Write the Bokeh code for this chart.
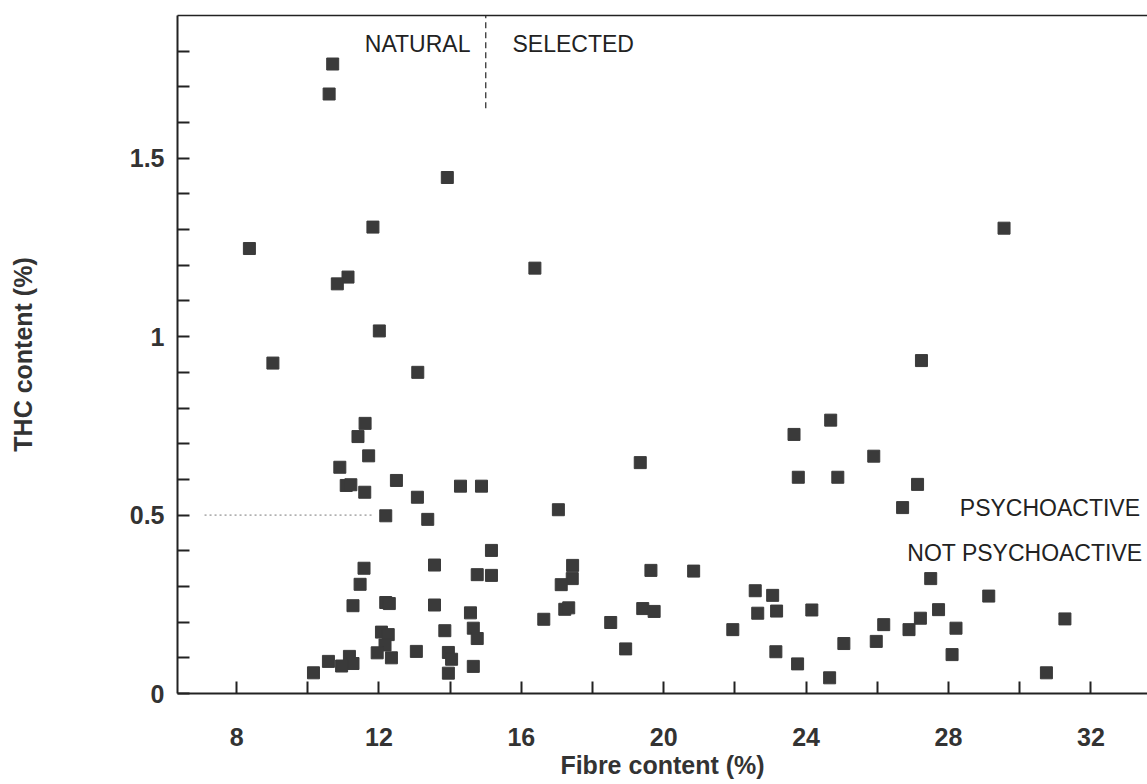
from bokeh.plotting import figure
from bokeh.models import (FixedTicker, CustomJSTickFormatter, LinearAxis, Range1d)
from bokeh.embed import file_html
from bokeh.resources import INLINE
from bokeh.core.properties import value

fibre = [10.70, 10.60, 13.92, 11.83, 8.36, 11.13, 10.83, 16.38, 12.01, 9.02,
         13.09, 11.61, 11.41, 11.71, 10.90, 11.08, 11.21, 11.60, 12.49, 13.08,
         14.29, 14.88, 12.19, 13.37, 17.04, 15.16, 11.58, 13.56, 14.76, 15.16,
         11.47, 11.27, 12.19, 12.29, 13.56, 14.57, 16.63, 12.07, 12.26, 13.85,
         14.65, 14.76, 12.17, 11.95, 12.35, 13.05, 13.95, 14.04, 11.17, 11.27,
         10.95, 10.58, 10.16, 13.95, 14.65,
         24.69, 23.66, 25.90, 23.78, 24.89, 19.34, 17.44, 17.43, 17.12, 17.22,
         17.33, 19.64, 20.84, 19.41, 19.73, 18.51, 18.93, 21.94, 22.57, 23.06,
         22.64, 23.17, 24.16, 23.15, 23.76, 24.66, 25.06, 25.97, 26.18,
         29.56, 27.24, 27.13, 26.71, 27.50, 29.13, 27.72, 27.21, 26.89, 28.21,
         31.27, 28.10, 30.75]
thc = [1.764, 1.680, 1.446, 1.307, 1.247, 1.167, 1.148, 1.192, 1.016, 0.926,
       0.900, 0.757, 0.720, 0.666, 0.634, 0.583, 0.585, 0.564, 0.597, 0.550,
       0.581, 0.581, 0.498, 0.488, 0.515, 0.401, 0.351, 0.360, 0.333, 0.331,
       0.306, 0.246, 0.255, 0.252, 0.248, 0.226, 0.208, 0.172, 0.165, 0.176,
       0.183, 0.154, 0.136, 0.114, 0.100, 0.118, 0.115, 0.096, 0.104, 0.084,
       0.077, 0.090, 0.058, 0.057, 0.076,
       0.766, 0.726, 0.665, 0.606, 0.606, 0.647, 0.359, 0.322, 0.305, 0.236,
       0.240, 0.345, 0.343, 0.238, 0.230, 0.199, 0.125, 0.179, 0.288, 0.275,
       0.225, 0.231, 0.234, 0.117, 0.083, 0.044, 0.140, 0.146, 0.193,
       1.304, 0.933, 0.586, 0.521, 0.322, 0.273, 0.235, 0.211, 0.179, 0.183,
       0.209, 0.109, 0.058]

x_major = [8, 12, 16, 20, 24, 28, 32]
x_minor = [10, 14, 18, 22, 26, 30]
y_major = [0, 0.5, 1, 1.5]
y_minor = [0.1, 0.2, 0.3, 0.4, 0.6, 0.7, 0.8, 0.9, 1.1, 1.2, 1.3, 1.4, 1.6, 1.7, 1.8]
threshold = 0.5
threshold_from, threshold_to = 7.1, 11.8
divider = 15
divider_from, divider_to = 1.64, 1.9

FONT = "Liberation Sans"
INK = "#222222"

p = figure(width=1147, height=784, output_backend="svg", toolbar_location=None,
           x_range=Range1d(6.34, 33.59), y_range=Range1d(0, 1.9),
           min_border_left=177, min_border_right=0, min_border_top=15, min_border_bottom=91)
p.background_fill_color = "white"
p.border_fill_color = "white"
p.outline_line_color = None
p.grid.visible = False

p.scatter(fibre, thc, marker="square", size=12, fill_color="#3a3a3a", line_color="#3a3a3a")

for ax, maj, mn in ((p.xaxis[0], x_major, x_minor), (p.yaxis[0], y_major, y_minor)):
    ax.ticker = FixedTicker(ticks=maj, minor_ticks=mn)
    ax.formatter = CustomJSTickFormatter(code="return String(tick);")
    ax.major_tick_in = 12
    ax.major_tick_out = 0
    ax.minor_tick_in = 12
    ax.minor_tick_out = 0
    ax.axis_line_width = 2
    ax.axis_line_color = INK
    ax.major_tick_line_color = INK
    ax.minor_tick_line_color = INK
    ax.major_tick_line_width = 2
    ax.minor_tick_line_width = 2
    ax.major_label_text_font = FONT
    ax.major_label_text_font_style = "bold"
    ax.major_label_text_font_size = "25px"
    ax.major_label_text_color = "#333333"
    ax.axis_label_text_font = FONT
    ax.axis_label_text_font_style = "bold"
    ax.axis_label_text_font_size = "25px"
    ax.axis_label_text_color = "#333333"

p.xaxis.axis_label = "Fibre content (%)"
p.yaxis.axis_label = "THC content (%)"
p.xaxis.major_label_standoff = 34
p.xaxis.axis_label_standoff = 2
p.yaxis.major_label_standoff = 13
p.yaxis.axis_label_standoff = 90

top = LinearAxis(ticker=FixedTicker(ticks=[]), major_label_text_font_size="0px",
                 axis_line_color=INK, axis_line_width=1.5, major_tick_in=0, major_tick_out=0,
                 minor_tick_in=0, minor_tick_out=0, major_label_standoff=0)
p.add_layout(top, "above")

p.segment(x0=[threshold_from], y0=[threshold], x1=[threshold_to], y1=[threshold],
          line_color="#777777", line_dash="2 3", line_width=1)
p.segment(x0=[divider], y0=[divider_from], x1=[divider], y1=[divider_to],
          line_color=INK, line_dash="6 4", line_width=1.2)

lab = dict(text_font=value(FONT), text_font_size="23px", text_color=INK, text_baseline="middle")
p.text(x=[14.57], y=[1.821], text=["NATURAL"], text_align="right", **lab)
p.text(x=[15.75], y=[1.821], text=["SELECTED"], text_align="left", **lab)
p.text(x=[33.38], y=[0.521], text=["PSYCHOACTIVE"], text_align="right", **lab)
p.text(x=[33.45], y=[0.395], text=["NOT PSYCHOACTIVE"], text_align="right", **lab)

open("out.html", "w").write(file_html(p, INLINE))
